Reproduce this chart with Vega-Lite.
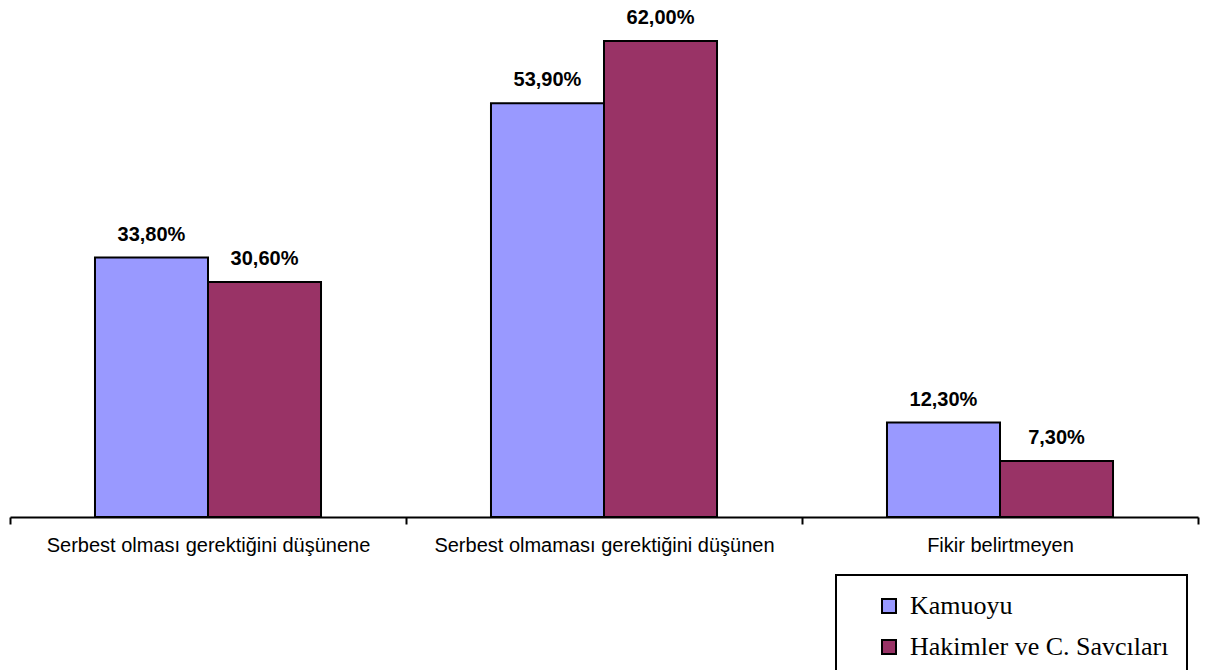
{
  "$schema": "https://vega.github.io/schema/vega-lite/v6.json",
  "width": 1188,
  "height": 517,
  "autosize": "none",
  "padding": {"left": 10, "top": 0, "right": 10, "bottom": 153},
  "background": "white",
  "config": {"view": {"stroke": null}},
  "data": {"values": [
    {"kategori": "Serbest olması gerektiğini düşünene", "grup": "Kamuoyu", "deger": 33.8, "etiket": "33,80%"},
    {"kategori": "Serbest olması gerektiğini düşünene", "grup": "Hakimler ve C. Savcıları", "deger": 30.6, "etiket": "30,60%"},
    {"kategori": "Serbest olmaması gerektiğini düşünen", "grup": "Kamuoyu", "deger": 53.9, "etiket": "53,90%"},
    {"kategori": "Serbest olmaması gerektiğini düşünen", "grup": "Hakimler ve C. Savcıları", "deger": 62.0, "etiket": "62,00%"},
    {"kategori": "Fikir belirtmeyen", "grup": "Kamuoyu", "deger": 12.3, "etiket": "12,30%"},
    {"kategori": "Fikir belirtmeyen", "grup": "Hakimler ve C. Savcıları", "deger": 7.3, "etiket": "7,30%"}
  ]},
  "encoding": {
    "x": {"field": "kategori", "type": "nominal", "sort": null,
      "scale": {"paddingInner": 0, "paddingOuter": 0},
      "axis": {"title": null, "labelAngle": 0, "domainColor": "black", "domainWidth": 2,
        "tickColor": "black", "tickWidth": 2, "tickSize": 7, "tickBand": "extent",
        "labelFont": "Liberation Sans", "labelFontSize": 20, "labelColor": "black",
        "labelPadding": 11, "labelLimit": 0}},
    "xOffset": {"field": "grup", "type": "nominal", "sort": ["Kamuoyu", "Hakimler ve C. Savcıları"],
      "scale": {"paddingInner": 0, "paddingOuter": 0.752}},
    "y": {"field": "deger", "type": "quantitative", "scale": {"domain": [0, 67.34], "nice": false}, "axis": null}
  },
  "layer": [
    {
      "mark": {"type": "bar", "stroke": "black", "strokeWidth": 2},
      "encoding": {
        "color": {"field": "grup", "type": "nominal", "sort": ["Kamuoyu", "Hakimler ve C. Savcıları"],
          "scale": {"domain": ["Kamuoyu", "Hakimler ve C. Savcıları"], "range": ["#9999FF", "#993366"]},
          "legend": {"title": null, "orient": "none", "legendX": 826, "legendY": 575,
            "strokeColor": "black", "padding": 18, "symbolType": "square", "symbolSize": 196,
            "symbolStrokeColor": "black", "symbolStrokeWidth": 2, "symbolOffset": 22,
            "labelFont": "Liberation Serif", "labelFontSize": 26, "labelColor": "black",
            "rowPadding": 15, "labelOffset": 8, "labelLimit": 0, "fillColor": "white",
            "encode": {"legend": {"update": {"strokeWidth": {"value": 2}}}}}}
      }
    },
    {
      "mark": {"type": "text", "dy": -13, "baseline": "bottom", "font": "Liberation Sans", "fontWeight": "bold", "fontSize": 20, "color": "black"},
      "encoding": {"text": {"field": "etiket"}}
    }
  ]
}
